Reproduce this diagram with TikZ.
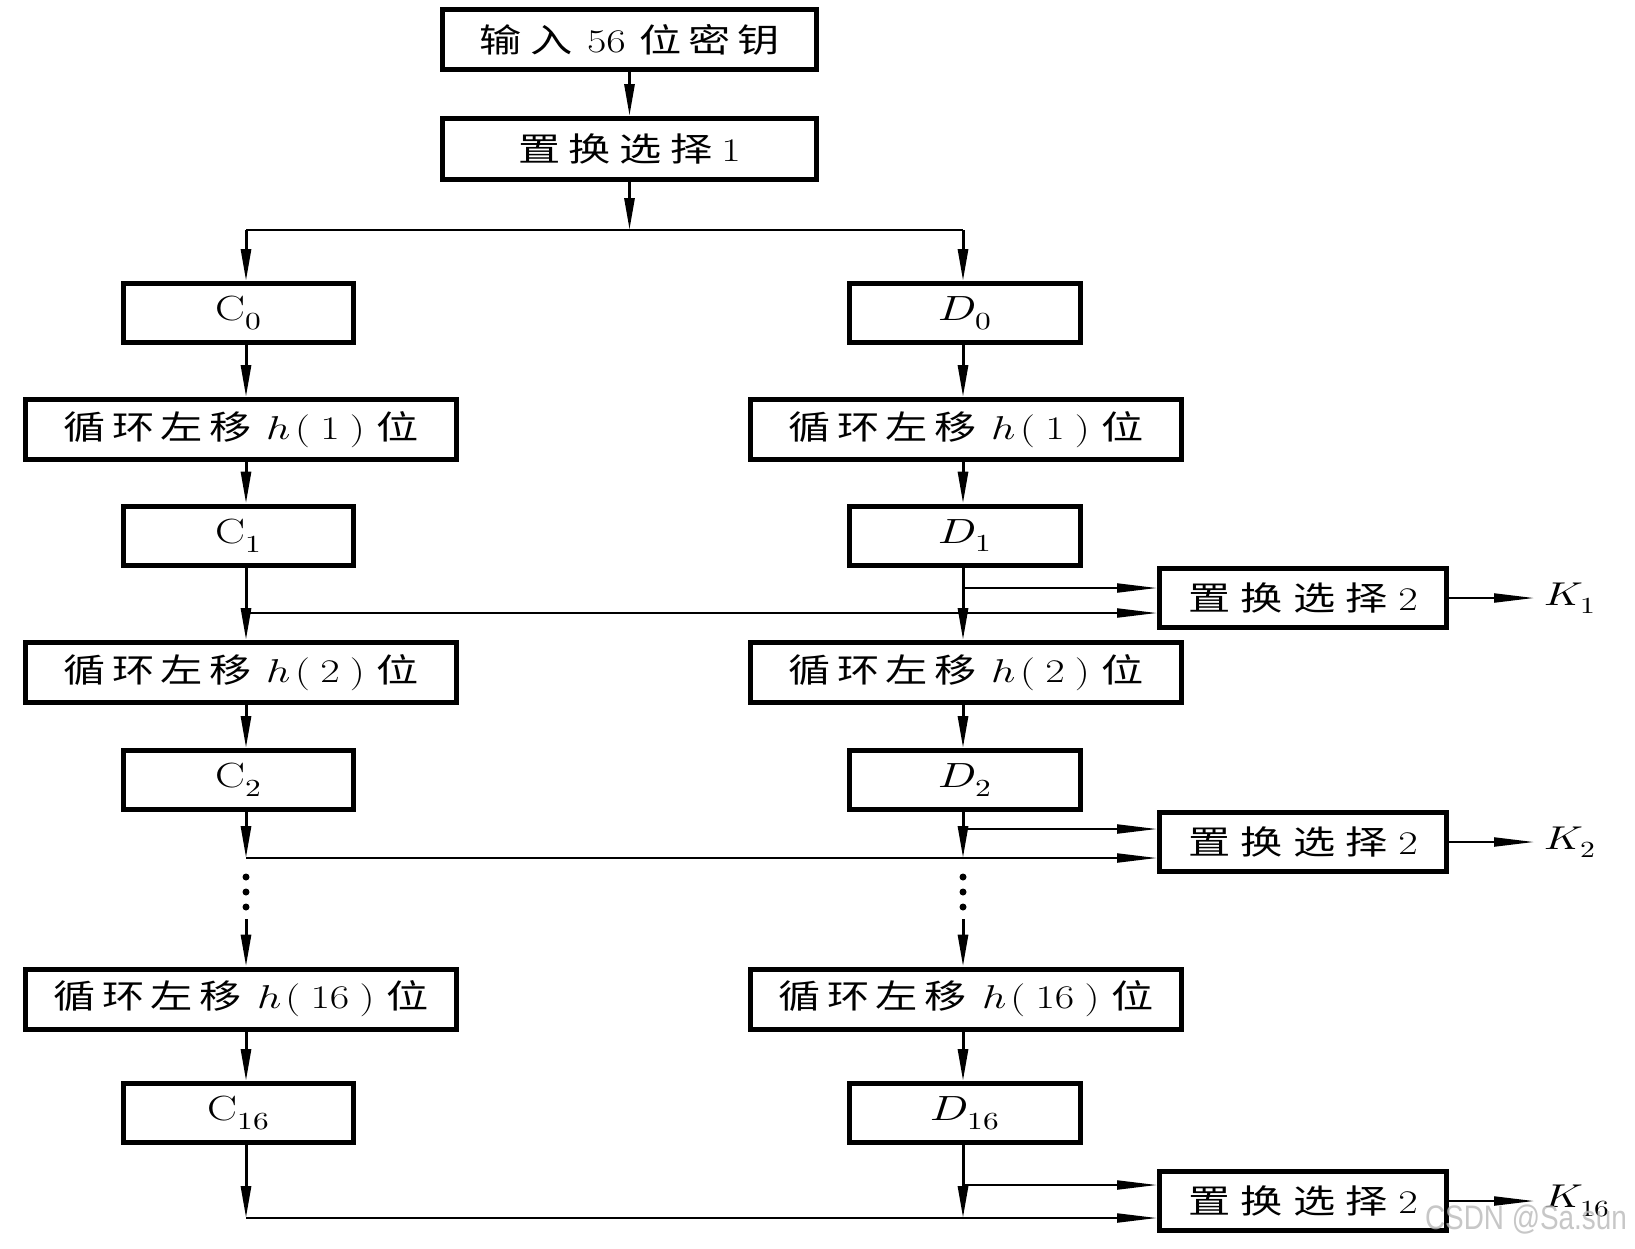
\documentclass[tikz,border=0pt]{standalone}
\usepackage{fontspec}
\usepackage{unicode-math}
\setmathfont{Latin Modern Math}
\newfontfamily\cjk{Noto Sans CJK SC}
\newfontfamily\wmfont{Liberation Sans}
\usepackage{graphicx}
\usetikzlibrary{arrows.meta,calc}

\newcommand\sx[1]{\scalebox{1.28}[1]{#1}}
\newcommand\zh[1]{{\cjk #1}}
\newcommand\mth[1]{{\fontsize{35}{40}\selectfont$#1$}}
\newcommand\shifttext[1]{\sx{\zh{循}\hspace{5pt}\zh{环}\hspace{5pt}\zh{左}\hspace{5pt}\zh{移}\hspace{12pt}$h$\kern3pt(\kern8pt#1\kern8pt)\kern9pt\zh{位}}}
\newcommand\pctwo{\sx{\zh{置}\hspace{8pt}\zh{换}\hspace{8pt}\zh{选}\hspace{8pt}\zh{择}\hspace{8pt}2}}

\tikzset{
  box/.style={draw, line width=5pt, inner sep=0pt, font=\fontsize{33}{38}\selectfont},
  cbox/.style={box, minimum width=230pt, minimum height=59pt},
  dbox/.style={box, minimum width=231pt, minimum height=59pt},
  sbox/.style={box, minimum width=431pt, minimum height=60pt},
  pbox/.style={box, minimum width=287pt, minimum height=59pt},
  klabel/.style={anchor=west, inner sep=0pt, inner xsep=10pt, font=\fontsize{33}{38}\selectfont},
  arr/.style={line width=3pt, -{Triangle[length=32pt,width=10pt]}},
  harr/.style={line width=2pt, -{Triangle[length=40pt,width=9pt]}},
  hline/.style={line width=2pt},
  dotn/.style={circle, fill, inner sep=0pt, minimum size=7pt},
}

\begin{document}
\begin{tikzpicture}[x=1pt,y=-1pt]
\useasboundingbox (0,0) rectangle (1635,1248);
\fill[white] (0,0) rectangle (1635,1248);

% top boxes
\node[box, minimum width=374pt, minimum height=60pt] (in) at (629.5,39.5)
  {\sx{\zh{输}\hspace{7pt}\zh{入}\hspace{11pt}56\hspace{11pt}\zh{位}\hspace{5pt}\zh{密}\hspace{5pt}\zh{钥}}};
\node[box, minimum width=374pt, minimum height=61pt] (pc1) at (629.5,149)
  {\sx{\zh{置}\hspace{6.5pt}\zh{换}\hspace{6.5pt}\zh{选}\hspace{6.5pt}\zh{择}\hspace{7pt}1}};

% left column
\node[cbox] (C0) at (238.5,313) {\sx{\mth{\mathrm{C}_0}}};
\node[sbox] (S1L) at (241,429.5) {\shifttext{1}};
\node[cbox] (C1) at (238.5,535.5) {\sx{\mth{\mathrm{C}_1}}};
\node[sbox] (S2L) at (241,672.5) {\shifttext{2}};
\node[cbox] (C2) at (238.5,780) {\sx{\mth{\mathrm{C}_2}}};
\node[sbox] (S16L) at (241,999) {\shifttext{16}};
\node[cbox] (C16) at (238.5,1113) {\sx{\mth{\mathrm{C}_{16}}}};

% right column
\node[dbox] (D0) at (965,313) {\sx{\mth{D_0}}};
\node[sbox] (S1R) at (966,429.5) {\shifttext{1}};
\node[dbox] (D1) at (965,535.5) {\sx{\mth{D_1}}};
\node[sbox] (S2R) at (966,672.5) {\shifttext{2}};
\node[dbox] (D2) at (965,780) {\sx{\mth{D_2}}};
\node[sbox] (S16R) at (966,999) {\shifttext{16}};
\node[dbox] (D16) at (965,1113) {\sx{\mth{D_{16}}}};

% permuted choice 2 boxes
\node[pbox] (P1) at (1303,598) {\pctwo};
\node[pbox] (P2) at (1303,842) {\pctwo};
\node[pbox] (P3) at (1303,1201) {\pctwo};

% K labels
\node[klabel] (K1) at (1534,598) {\sx{$K_1$}};
\node[klabel] (K2) at (1534,842) {\sx{$K_2$}};
\node[klabel] (K16) at (1534,1201) {\sx{$K_{16}$}};

% column coordinates
\coordinate (colL) at (246,0);
\coordinate (colR) at (963,0);
\coordinate (split) at (629.5,230);
\coordinate (splitL) at (246,230);
\coordinate (splitR) at (963,230);
\coordinate (hL1) at (246,613);
\coordinate (hR1) at (963,588);
\coordinate (hL2) at (246,858);
\coordinate (hR2) at (963,829);
\coordinate (jR2) at (963,858);
\coordinate (hL16) at (246,1218);
\coordinate (hR16) at (963,1185);
\coordinate (jR16) at (963,1218);
\coordinate (cL) at (246,919);
\coordinate (cR) at (963,919);

% top connectors
\draw[arr] (in) -- (pc1);
\draw[arr] (pc1) -- (split);
\draw[hline] (splitL) -- (splitR);
\draw[arr] (splitL) -- (C0.north -| colL);
\draw[arr] (splitR) -- (D0.north -| colR);

% left chain
\draw[arr] (C0.south -| colL) -- (S1L.north -| colL);
\draw[arr] (S1L.south -| colL) -- (C1.north -| colL);
\draw[arr] (C1.south -| colL) -- (S2L.north -| colL);
\draw[arr] (S2L.south -| colL) -- (C2.north -| colL);
\draw[arr] (C2.south -| colL) -- (hL2);
\draw[arr] (cL) -- (S16L.north -| colL);
\draw[arr] (S16L.south -| colL) -- (C16.north -| colL);
\draw[arr] (C16.south -| colL) -- (hL16);

% right chain
\draw[arr] (D0.south -| colR) -- (S1R.north -| colR);
\draw[arr] (S1R.south -| colR) -- (D1.north -| colR);
\draw[arr] (D1.south -| colR) -- (S2R.north -| colR);
\draw[arr] (S2R.south -| colR) -- (D2.north -| colR);
\draw[arr] (D2.south -| colR) -- (jR2);
\draw[arr] (cR) -- (S16R.north -| colR);
\draw[arr] (S16R.south -| colR) -- (D16.north -| colR);
\draw[arr] (D16.south -| colR) -- (jR16);

% dots
\node[dotn] (dL1) at (246,877) {};
\node[dotn] (dL2) at (246,892) {};
\node[dotn] (dL3) at (246,907) {};
\node[dotn] (dR1) at (963,877) {};
\node[dotn] (dR2) at (963,892) {};
\node[dotn] (dR3) at (963,907) {};

% into PC2
\draw[harr] (hR1) -- (hR1 -| P1.west);
\draw[harr] (hL1) -- (hL1 -| P1.west);
\draw[harr] (hR2) -- (hR2 -| P2.west);
\draw[harr] (hL2) -- (hL2 -| P2.west);
\draw[harr] (hR16) -- (hR16 -| P3.west);
\draw[harr] (hL16) -- (hL16 -| P3.west);

% outputs
\draw[harr] (P1.east) -- (K1.west);
\draw[harr] (P2.east) -- (K2.west);
\draw[harr] (P3.east) -- (K16.west);

% watermark
\node[text=gray!55, opacity=0.8, inner sep=0pt, font=\wmfont\fontsize{34}{40}\selectfont] (wm) at (1526,1220)
  {\scalebox{0.82}[1]{CSDN @Sa.sun}};
\end{tikzpicture}
\end{document}
